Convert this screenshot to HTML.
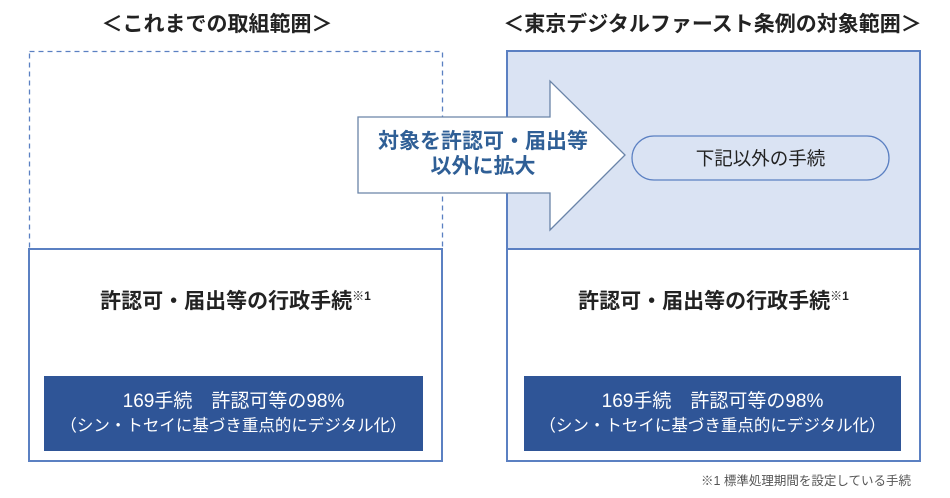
<!DOCTYPE html>
<html><head><meta charset="utf-8"><style>
body{margin:0;width:950px;height:498px;background:#fff;position:relative;overflow:hidden;font-family:"Liberation Sans","Noto Sans CJK JP",sans-serif;}
.a{position:absolute;}
.t{position:absolute;white-space:nowrap;text-align:center;}
</style></head><body>
<div class="t" style="left:17px;width:400px;top:8px;font-size:21px;font-weight:bold;color:#222;">＜これまでの取組範囲＞</div>
<div class="t" style="left:490px;width:445px;top:8px;font-size:21px;font-weight:bold;color:#222;">＜東京デジタルファースト条例の対象範囲＞</div>
<svg class="a" style="left:0;top:0" width="950" height="498">
<rect x="29.5" y="51.5" width="413" height="198" fill="none" stroke="#5b80c2" stroke-width="1.3" stroke-dasharray="5,4"/>
<rect x="507" y="51" width="413" height="198" fill="#dae3f3" stroke="#5b80c2" stroke-width="2"/>
<rect x="29" y="249" width="413" height="212" fill="#fff" stroke="#5b80c2" stroke-width="2"/>
<rect x="507" y="249" width="413" height="212" fill="#fff" stroke="#5b80c2" stroke-width="2"/>
<rect x="44" y="376" width="379" height="75" fill="#2f5597"/>
<rect x="524" y="376" width="377" height="75" fill="#2f5597"/>
<polygon points="358,117 550,117 550,81 625,155 550,230 550,193 358,193" fill="#fff" stroke="#6a84a8" stroke-width="1.3"/>
<rect x="632" y="136" width="257" height="44" rx="22" fill="#dae3f3" stroke="#5b80c2" stroke-width="1.3"/>
</svg>
<div class="t" style="left:373px;width:220px;top:129px;font-size:21px;font-weight:bold;color:#2f5f96;line-height:25px;">対象を許認可・届出等<br>以外に拡大</div>
<div class="t" style="left:632px;width:257px;top:145px;font-size:18.5px;color:#222;">下記以外の手続</div>
<div class="t" style="left:29px;width:413px;top:285px;font-size:21px;font-weight:bold;color:#222;">許認可・届出等の行政手続<sup style="font-size:12px;">※1</sup></div>
<div class="t" style="left:507px;width:413px;top:285px;font-size:21px;font-weight:bold;color:#222;">許認可・届出等の行政手続<sup style="font-size:12px;">※1</sup></div>
<div class="t" style="left:44px;width:379px;top:390px;font-size:19px;color:#fff;line-height:24px;">169手続　許認可等の98%<br><span style="font-size:16.5px;">（シン・トセイに基づき重点的にデジタル化）</span></div>
<div class="t" style="left:524px;width:377px;top:390px;font-size:19px;color:#fff;line-height:24px;">169手続　許認可等の98%<br><span style="font-size:16.5px;">（シン・トセイに基づき重点的にデジタル化）</span></div>
<div class="t" style="left:640px;width:271px;top:470px;font-size:12.5px;color:#555;text-align:right;">※1 標準処理期間を設定している手続</div>
</body></html>
